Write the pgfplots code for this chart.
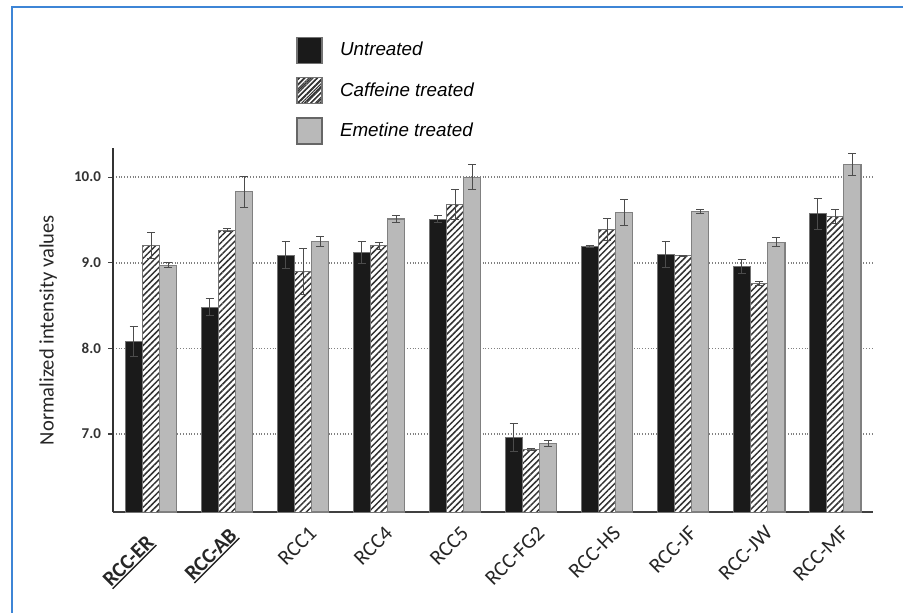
\documentclass[border=0pt]{standalone}
\usepackage{pgfplots}
\pgfplotsset{compat=1.18}
\usepackage{pgfplotstable}
\usetikzlibrary{patterns.meta}
\usepackage{fontspec}
\setmainfont{Carlito}
\newfontfamily\arialfont{Liberation Sans}
\definecolor{frameblue}{HTML}{3D85D6}
\definecolor{barblack}{HTML}{1A1A1A}
\definecolor{bargray}{HTML}{B9B9B9}
\definecolor{hatchcol}{HTML}{333333}
\newcommand\ul[1]{\setbox0\hbox{#1}\rlap{\rule[-1.3pt]{\wd0}{0.7pt}}\box0}

\pgfplotstableread{
x u ue c ce e ee
0 8.08 0.18 9.20 0.15 8.97 0.03
1 8.48 0.10 9.38 0.02 9.83 0.18
2 9.09 0.16 8.90 0.27 9.25 0.06
3 9.12 0.13 9.20 0.04 9.51 0.04
4 9.51 0.04 9.68 0.18 10.00 0.15
5 6.96 0.16 6.82 0.01 6.89 0.03
6 9.19 0.01 9.39 0.13 9.59 0.15
7 9.10 0.15 9.08 0.01 9.60 0.02
8 8.96 0.08 8.76 0.02 9.24 0.05
9 9.57 0.18 9.54 0.08 10.15 0.13
}\data

\begin{document}
\begin{tikzpicture}
\path[use as bounding box] (0,0) rectangle (451.5pt,-306.5pt);
\draw[frameblue, line width=0.8pt] (6pt,-306.5pt) -- (6pt,-3.5pt) -- (451.5pt,-3.5pt);
\begin{axis}[
  at={(56.5pt,-256pt)}, anchor=south west,
  scale only axis, width=380pt, height=182pt,
  xmin=-0.5, xmax=9.5, ymin=6.09, ymax=10.34,
  ybar, bar width=0.225,
  axis x line*=bottom, axis y line*=left,
  x axis line style={draw=black!75, line width=0.7pt},
  y axis line style={draw=black!80, line width=0.9pt},
  xtick={0,...,9},
  xticklabels={{\ul{\textbf{RCC-ER}}\kern7pt},{\ul{\textbf{RCC-AB}}\kern2pt},RCC1,RCC4,RCC5,RCC-FG2,RCC-HS,RCC-JF,RCC-JW,RCC-MF},
  x tick style={draw=none},
  xticklabel style={rotate=45, anchor=east, xshift=2.5pt, yshift=-8pt, font=\fontsize{10.6}{12}\selectfont, text=black!85},
  ytick={7,8,9,10},
  y tick style={draw=black!75, line width=0.6pt},
  tick align=outside, major tick length=2.5pt,
  yticklabel style={font=\bfseries\fontsize{7.5}{9}\selectfont, text=black!80,
    /pgf/number format/.cd, fixed, fixed zerofill, precision=1, assume math mode=true},
  ymajorgrids, grid style={densely dotted, black!50, line width=0.9pt},
  ylabel={Normalized intensity values},
  ylabel style={at={(axis description cs:-0.0855,0.5)}, anchor=center, font=\fontsize{10.3}{12}\selectfont, text=black!85},
  legend style={at={(rel axis cs:0.2408,1.305)}, anchor=north west, draw=none, fill=none,
    inner sep=0pt, outer sep=0pt, row sep=6.5pt, column sep=8.5pt,
    nodes={inner sep=0pt, font=\arialfont\itshape\fontsize{9.4}{11}\selectfont}},
  legend cell align=left,
  error bars/y dir=both, error bars/y explicit,
  error bars/error bar style={black!70, line width=0.5pt},
  error bars/error mark options={rotate=90, mark size=2pt, black!70, line width=0.5pt},
]
\addplot[fill=barblack, draw=black!55, line width=0.5pt, bar shift=-0.228,
  legend image code/.code={\draw[fill=barblack, draw=black!55, line width=0.6pt] (0pt,-6.5pt) rectangle (12.5pt,6.5pt);}]
  table[x=x, y=u, y error=ue] {\data};
\addlegendentry{Untreated}
\addplot[fill=white, draw=black!55, line width=0.5pt, bar shift=0,
  postaction={pattern={Lines[angle=45, distance=2.2pt, line width=0.75pt]}, pattern color=hatchcol},
  legend image code/.code={\draw[fill=white, draw=black!55, line width=0.6pt, postaction={pattern={Lines[angle=45, distance=1.6pt, line width=0.5pt]}, pattern color=hatchcol}] (0pt,-6.5pt) rectangle (12.5pt,6.5pt);}]
  table[x=x, y=c, y error=ce] {\data};
\addlegendentry{Caffeine treated}
\addplot[fill=bargray, draw=black!50, line width=0.6pt, bar shift=0.228,
  legend image code/.code={\draw[fill=bargray, draw=black!60, line width=1pt] (0pt,-6.5pt) rectangle (12.5pt,6.5pt);}]
  table[x=x, y=e, y error=ee] {\data};
\addlegendentry{Emetine treated}
\end{axis}
\end{tikzpicture}
\end{document}
